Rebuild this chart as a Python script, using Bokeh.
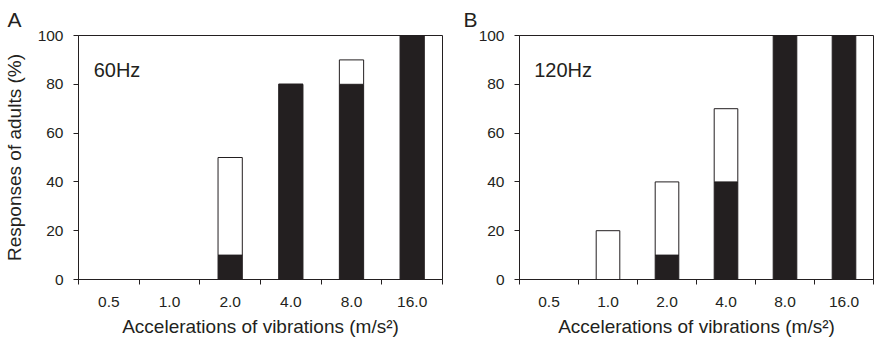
from bokeh.plotting import figure
from bokeh.models import Range1d, FixedTicker, Label, Title
from bokeh.layouts import row
from bokeh.embed import file_html
from bokeh.resources import INLINE

categories = ["0.5", "1.0", "2.0", "4.0", "8.0", "16.0"]
a_black = [0, 0, 10, 80, 80, 100]
a_total = [0, 0, 50, 80, 90, 100]
b_black = [0, 0, 10, 40, 100, 100]
b_total = [0, 20, 40, 70, 100, 100]
y_ticks = [0, 20, 40, 60, 80, 100]

FONT = "Liberation Sans"
INK = "#231f20"


def make(black, total, letter, freq, fw, right_border, title_offset):
    n = len(categories)
    xs = [i + 0.5 for i in range(n)]
    p = figure(frame_width=fw, frame_height=244,
               x_range=Range1d(0, n), y_range=Range1d(0, 100),
               output_backend="svg", toolbar_location=None,
               min_border_left=70, min_border_right=right_border,
               min_border_top=28, min_border_bottom=57)
    p.xgrid.visible = False
    p.ygrid.visible = False
    p.outline_line_color = INK
    p.outline_line_width = 1
    p.background_fill_color = "white"
    p.border_fill_color = "white"

    p.vbar(x=xs, width=0.4, bottom=0, top=black,
           fill_color=INK, line_color=INK, line_width=1)
    p.vbar(x=xs, width=0.4, bottom=black, top=total,
           fill_color="white", line_color=INK, line_width=1)

    xa = p.xaxis[0]
    xa.ticker = FixedTicker(ticks=xs, minor_ticks=list(range(n + 1)))
    xa.major_label_overrides = {x: c for x, c in zip(xs, categories)}
    xa.major_tick_out = 0
    xa.major_tick_in = 0
    xa.minor_tick_out = 5
    xa.minor_tick_in = 0
    xa.minor_tick_line_color = INK
    xa.axis_line_color = INK
    xa.major_label_standoff = 12
    xa.major_label_text_font = FONT
    xa.major_label_text_font_size = "15.5px"
    xa.major_label_text_color = INK
    xa.axis_label = "Accelerations of vibrations (m/s²)"
    xa.axis_label_text_font = FONT
    xa.axis_label_text_font_size = "19px"
    xa.axis_label_text_font_style = "normal"
    xa.axis_label_text_color = INK
    xa.axis_label_standoff = 6

    ya = p.yaxis[0]
    ya.ticker = FixedTicker(ticks=y_ticks, minor_ticks=[])
    ya.major_tick_out = 5
    ya.major_tick_in = 0
    ya.major_tick_line_color = INK
    ya.axis_line_color = INK
    ya.major_label_standoff = 10
    ya.major_label_text_font = FONT
    ya.major_label_text_font_size = "15.5px"
    ya.major_label_text_color = INK
    ya.axis_label = "Responses of adults (%)" if letter == "A" else None
    ya.axis_label_text_font = FONT
    ya.axis_label_text_font_size = "19px"
    ya.axis_label_text_font_style = "normal"
    ya.axis_label_text_color = INK
    ya.axis_label_standoff = 10

    p.add_layout(Title(text=letter, align="left", offset=title_offset,
                       text_font=FONT, text_font_size="21px",
                       text_font_style="normal", text_color=INK), "above")

    p.add_layout(Label(x=0.25, y=86, text=freq, text_font=FONT,
                       text_font_size="20px", text_color=INK,
                       text_baseline="alphabetic"))
    return p


pa = make(a_black, a_total, "A", "60Hz", 364, 7, -71)
pb = make(b_black, b_total, "B", "120Hz", 354, 1, -56)
layout = row(pa, pb)

open("out.html", "w").write(file_html(layout, INLINE))
